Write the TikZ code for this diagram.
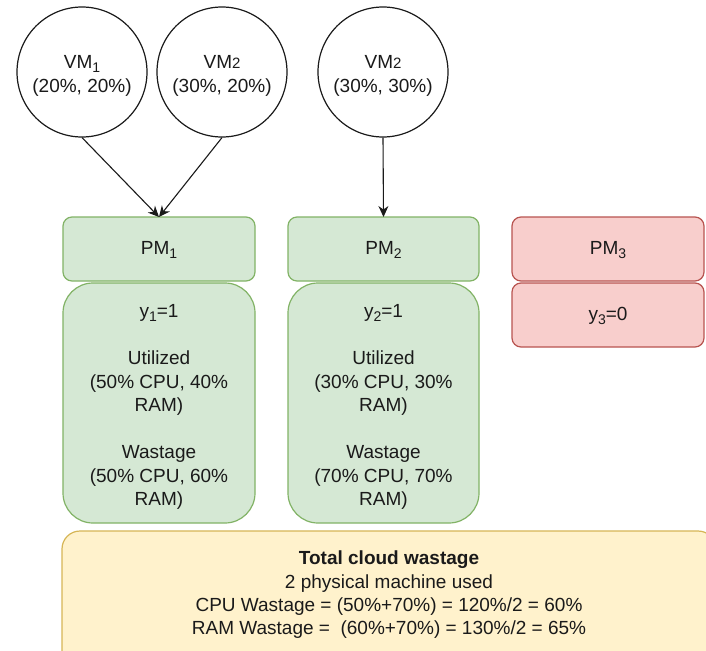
\documentclass[tikz,border=0pt]{standalone}
\usepackage{fontspec}
\setmainfont{Liberation Sans}
\usetikzlibrary{arrows.meta}
\definecolor{gfill}{HTML}{D5E8D4}
\definecolor{gline}{HTML}{82B366}
\definecolor{rfill}{HTML}{F8CECC}
\definecolor{rline}{HTML}{B85450}
\definecolor{yfill}{HTML}{FFF2CC}
\definecolor{yline}{HTML}{D6B656}
\definecolor{ink}{HTML}{1A1A1A}
\tikzset{
  every node/.style={font=\fontsize{19}{23.5}\selectfont, text=ink},
  vm/.style={draw=ink, line width=1.2pt, circle, minimum size=130pt, inner sep=0pt, align=center},
  gbox/.style={draw=gline, fill=gfill, line width=1.2pt, rounded corners=9pt},
  rbox/.style={draw=rline, fill=rfill, line width=1.2pt, rounded corners=9pt},
  gtall/.style={draw=gline, fill=gfill, line width=1.2pt, rounded corners=30pt},
  ybox/.style={draw=yline, fill=yfill, line width=1.2pt, rounded corners=18pt},
  arr/.style={draw=ink, line width=1.1pt, -{Stealth[length=11pt,width=10pt]}},
  lbl/.style={align=center, inner sep=0pt}
}
\newcommand{\smalltwo}{{\fontsize{15}{15}\selectfont 2}}
\newcommand{\sub}[1]{\raisebox{-3.5pt}{\fontsize{14}{14}\selectfont #1}}
\begin{document}
\begin{tikzpicture}[x=1pt,y=-1pt]
\clip (0,0) rectangle (706,650);
\fill[white] (0,0) rectangle (706,650);

% virtual machines
\node[vm] (vm1) at (82,72) {};
\node[lbl] (vm1t) at (82,76) {VM\sub{1}\\(20\%, 20\%)};
\node[vm] (vm2) at (222,72) {};
\node[lbl] (vm2t) at (222,76) {VM\smalltwo\\(30\%, 20\%)};
\node[vm] (vm3) at (383,72) {};
\node[lbl] (vm3t) at (383,76) {VM\smalltwo\\(30\%, 30\%)};

% physical machines (headers)
\draw[gbox] (63,217) rectangle (255,281);
\node[lbl] (pm1) at (159,250) {PM\sub{1}};
\coordinate (pm1top) at (159,217);
\draw[gbox] (288,217) rectangle (479,281);
\node[lbl] (pm2) at (383.5,250) {PM\sub{2}};
\coordinate (pm2top) at (383.5,217);
\draw[rbox] (512,217) rectangle (704,281);
\node[lbl] (pm3) at (608,250) {PM\sub{3}};

% physical machines (state)
\draw[gtall] (63,283) rectangle (255,523);
\node[lbl] (st1) at (159,407) {y\sub{1}=1\\[23.5pt]Utilized\\(50\% CPU, 40\%\\RAM)\\[23.5pt]Wastage\\(50\% CPU, 60\%\\RAM)};
\draw[gtall] (288,283) rectangle (479,523);
\node[lbl] (st2) at (383.5,407) {y\sub{2}=1\\[23.5pt]Utilized\\(30\% CPU, 30\%\\RAM)\\[23.5pt]Wastage\\(70\% CPU, 70\%\\RAM)};
\draw[rbox] (512,283) rectangle (704,347);
\node[lbl] (st3) at (608,316) {y\sub{3}=0};

% summary
\draw[ybox] (62,531) rectangle (716,690);
\node[lbl, font=\fontsize{19}{23.3}\selectfont] (total) at (389,595)
  {\textbf{Total cloud wastage}\\2 physical machine used\\CPU Wastage = (50\%+70\%) = 120\%/2 = 60\%\\RAM Wastage = \ (60\%+70\%) = 130\%/2 = 65\%};

% placements
\draw[arr] (vm1.south) -- (pm1top);
\draw[arr] (vm2.south) -- (pm1top);
\draw[arr] (vm3.south) -- (pm2top);
\end{tikzpicture}
\end{document}
